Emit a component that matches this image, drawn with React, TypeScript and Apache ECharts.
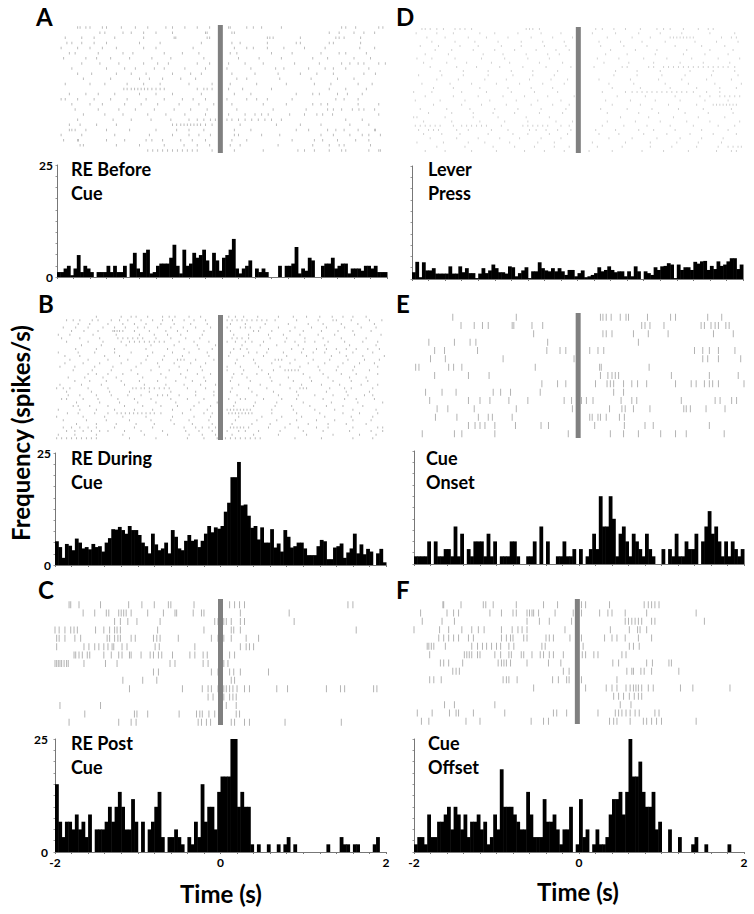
import React, { useEffect, useRef } from "react";
import * as echarts from "echarts";

// Histogram values, spikes/s, 100 bins of 0.04 s from -2 s to 2 s
const histA = [1.1,1.1,1.9,2.5,0.4,1.9,4.9,1.1,2.5,1.9,1.1,0,1.1,1.1,1.1,2.5,1.1,2.5,1.1,1.1,2.5,0,3,5.4,1.9,1.1,5.4,6.1,0.8,1.1,2.5,3,3,3,4.3,7.2,2.5,0.8,6.1,2.5,3,5.4,4.3,4.9,6.1,3.7,1.4,5.4,3.7,1.4,4.3,4.9,6.1,8.5,1.9,0.8,1.9,2.5,3.7,0,1.9,1.1,1.9,1.1,0,0,0,2.5,0,2.5,2.5,3,6.7,0.8,1.9,1.4,4.3,3.7,0,0,2.5,3,3,4.3,1.9,2.5,3,3,0.8,1.9,1.9,1.9,1.4,2.5,2.5,1.9,2.5,1.1,1.1,1.1];
const histB = [5.3,4,1.6,4.7,4.3,3.3,5.9,5,3.7,4,3.5,4.7,4,4.2,3,5,6,8,7.9,8.5,7.8,7,8.7,7.8,7.8,6.7,5,4.2,2.6,7,4.6,3.3,3.7,5,2.6,7.8,6.3,3.7,3.3,5.4,6.7,5.4,5.7,4,5.4,7,8.7,7.3,8.4,8.1,8.7,11.9,13.9,19.6,19.6,23,13.3,13.5,11,8.3,8.7,5.7,8.4,5,5,8,3.9,4.8,3,7.8,6.3,3.9,4.2,5,5,3.7,2.2,2.2,2.2,4.2,5.6,5.3,1.3,1.3,3.9,4.2,4.8,1.6,2.8,3.7,7,2.6,4.6,2.4,3.6,3,0,2.6,3.6,0.6];
const histC = [15,6.7,3.3,6.7,6.7,5,8.3,5,6.7,3.3,8.3,0,5,5,5,6.7,10,6.7,10,13.3,10,5,5,11.7,6.7,0,6.7,0,5,6.7,10,13.3,3.3,0,3.3,3.3,5,3.3,1.7,0,3.3,1.7,6.7,3.3,15,6.7,10,10,5,13.3,16.7,16.7,16.7,25,25,10,13.3,10,10,1.7,0,1.7,0,0,1.7,0,0,1.7,0,1.7,3.3,0,1.7,0,0,0,0,0,0,0,0,0,1.7,0,0,0,3.3,1.7,1.7,0,1.7,1.7,0,0,0,0,1.7,3.3,0,0];
const histD = [1.5,3.8,.4,3.7,1.9,1.9,2.4,1.2,1.2,1.2,1.2,2.8,1.2,1.2,2.8,1.5,2.4,1.3,1.3,.2,1.2,2.4,1.3,1.9,3.2,2.4,1.5,1.5,1.2,2.8,2.6,.6,1.3,1.9,2.6,.2,1.7,1.7,3.7,2.4,1.9,1.7,2.4,1.7,2.4,1.7,.9,2,2,.6,1.3,1.9,.4,.6,.9,1.3,2.6,1.7,2,2.8,2,1.5,1.7,1.7,.6,1.7,.6,2.8,1.7,0,1.7,1.3,.9,2.6,2,2.8,2.9,3.5,3.2,.2,3.2,2,2.6,2.6,2,3.8,3.4,3.9,4,2,2.9,2.2,3.9,2.9,3.2,3.9,4.6,4.6,2.2,3.2];
const histE = [1.7,1.7,1.7,1.7,5,0,5,1.7,1.7,3.3,3.3,1.7,8.3,1.7,6.7,0,3.3,1.7,5,5,5,1.7,6.7,1.7,5,0,1.7,1.7,1.7,5,5,1.7,0,0,1.7,1.7,5,0,8.3,0,5,0,0,1.7,1.7,5,1.7,1.7,3.3,0,3.3,0,1.7,3.3,6.7,3.3,15,8.3,8.3,15,10,1.7,6.7,8.3,5,1.7,6.7,5,3.3,1.7,6.7,3.3,1.7,0,0,3.3,0,3.3,1.7,6.7,1.7,1.7,5,3.3,3.3,6.7,0,5,8.3,11.7,6.7,8.3,5,1.7,5,1.7,5,3.3,1.7,3.3];
const histF = [1.7,3.3,3.3,1.7,8.3,3.3,3.3,6.7,6.7,8.3,10,5,10,8.3,5,8.3,3.3,6.7,6.7,8.3,5,6.7,1.7,3.3,8.3,5,18.3,10,10,10,8.3,6.7,5,5,13.3,8.3,3.3,3.3,3.3,11.7,6.7,6.7,8.3,5,1.7,5,5,10,0,1.7,11.7,3.3,5,0,1.7,5,1.7,1.7,3.3,8.3,11.7,11.7,13.3,8.3,13.3,25,16.7,16.7,20,13.3,10,10,13.3,5,6.7,0,0,5,0,0,3.3,0,0,0,1.7,3.3,0,0,1.7,0,0,0,0,0,0,1.7,0,0,0,0];

// Raster spike times, in hundredths of a second, one list per trial
const rasterA = [
[-175,-172,-165,-160,-145,-140,-122,-105,-90,-68,-60,-45,-30,-15,8,10,30,38,48,72,145,150,162,190,195],
[-148,-142,-120,-110,-95,-80,-60,-20,-18,12,15,130,142,160,172,185],
[-190,-170,-155,-130,-95,-58,-56,-15,-18,55,58,62,95,138,142,148,168],
[-188,-182,-170,-155,-140,-100,-75,-25,12,22,55,90,95,130,135,168],
[-195,-175,-160,-145,-128,-95,-80,-35,15,30,38,55,75,100,125,167,185],
[-185,-178,-150,-120,-108,-70,-48,-28,10,18,60,85,120,142,150,175],
[-192,-165,-152,-135,-112,-85,-62,-22,20,45,72,110,128,160,180],
[-170,-148,-125,-95,-78,-65,-30,-15,8,28,50,88,118,145,155,165,172,190,198],
[-182,-140,-118,-105,-82,-70,-45,-20,6,35,65,75,105,125,135,150,178],
[-175,-158,-128,-110,-92,-60,-38,-25,12,40,68,95,115,135,172,186],
[-168,-135,-100,-88,-72,-50,-32,18,30,70,108,140,160],
[-190,-160,-142,-115,-95,-75,-40,-12,10,42,78,112,132,165,182],
[-119,-115,-110,-106,-102,-98,-94,-90,-85,-80,-75,-70,-30,-22,-18,-12,8,25,60,130,150,175],
[-185,-165,-150,-130,-100,-80,-60,-25,15,35,90,110,118,140,152,170],
[-195,-190,-175,-155,-135,-115,-92,-70,-48,-35,-20,6,30,42,55,85,138,148,165],
[-182,-160,-145,-118,-98,-78,-52,-28,-10,12,50,78,110,120,128,165,190],
[-178,-150,-125,-105,-82,-58,-38,-18,18,62,102,128,135,145,158,172,166,185],
[-168,-142,-120,-90,-68,-45,-20,8,28,40,48,56,82,100,115,122,134,190],
[-175,-132,-110,-86,-62,-40,-30,-22,-14,-8,6,12,20,28,36,44,52,60,72,150,170],
[-185,-172,-152,-128,-60,-55,-50,-46,-42,-38,-34,-30,-26,-20,-12,22,66,95,120,155,178],
[-185,-182,-178,-165,-140,-112,-80,-55,-40,-22,15,35,90,105,128,138,148,165,185,186],
[-195,-170,-130,-88,-60,-40,-28,-14,15,20,48,70,120,135,155,170,178,192],
[-192,-175,-174,-140,-118,-92,-85,-72,-50,-36,-20,12,30,85,112,122,140,162,178],
[-172,-168,-128,-100,-70,-46,-30,-15,10,22,68,110,130,142,148,180],
[-90,-84,-78,-72,-66,-60,-54,-48,-42,-36,-30,-12,15,50,92,100,112,130,145,150,178,190,192]
];
const rasterB = [
[-150,-120,-108,-102,-88,-70,-62,-55,-38,-24,10,18,28,45,70,88,104,120,135,148,160,176],
[-186,-178,-170,-155,-148,-132,-122,-112,-96,-82,-70,-58,-44,-32,-18,8,14,20,26,32,38,44,50,56,66,92,118,136,140,158,180,195],
[-172,-158,-136,-118,-104,-90,-72,-56,-36,-16,12,30,54,82,106,124,146,166,186],
[-190,-175,-160,-142,-128,-115,-100,-92,-76,-60,-45,-30,-12,8,24,30,36,48,70,90,110,128,150,170,188],
[-180,-165,-148,-130,-128,-125,-122,-118,-104,-86,-66,-52,-40,-20,12,40,46,62,84,100,122,142,160,182],
[-196,-182,-154,-126,-98,-80,-64,-48,-22,16,34,58,76,96,118,138,162,194],
[-192,-170,-146,-124,-118,-112,-106,-100,-94,-78,-60,-42,-25,14,20,26,34,60,80,102,124,146,176],
[-186,-160,-142,-120,-110,-104,-98,-92,-86,-80,-74,-68,-50,-32,-14,8,18,30,38,52,78,90,102,114,130,150,172,190],
[-168,-144,-114,-84,-56,-28,-6,26,48,68,94,126,156,188],
[-175,-150,-128,-90,-64,-44,-26,-10,16,24,32,58,86,100,116,128,140,152,164,178,192],
[-196,-172,-152,-128,-108,-82,-58,-38,-16,12,34,44,56,76,98,112,126,144,160,184],
[-188,-170,-140,-122,-88,-68,-46,-14,10,28,52,80,104,134,152,172,198],
[-182,-160,-136,-112,-90,-70,-52,-48,-44,-30,-8,20,40,66,70,74,90,112,132,154,174,192],
[-188,-166,-146,-120,-96,-76,-56,-36,-18,18,42,62,84,106,126,148,168,186],
[-194,-176,-152,-130,-102,-74,-50,-24,8,24,46,72,96,118,142,162,190],
[-178,-155,-132,-108,-84,-62,-40,-22,8,28,50,64,78,82,86,90,94,120,140,160,180],
[-160,-150,-136,-118,-100,-72,-48,-28,-12,16,26,44,58,100,124,146,164,190],
[-184,-164,-142,-126,-94,-66,-42,-20,14,32,60,82,108,130,156,176],
[-176,-158,-138,-120,-98,-76,-54,-34,-18,12,36,62,88,110,136,158,178],
[-194,-168,-144,-116,-92,-66,-44,-24,-6,22,48,72,98,122,144,170,190],
[-198,-190,-182,-160,-136,-106,-102,-96,-92,-86,-80,-74,-68,-62,-40,-18,14,34,56,84,96,100,104,132,150,158,184],
[-186,-156,-134,-110,-86,-60,-30,-8,12,38,64,92,128,152,180],
[-184,-170,-150,-132,-112,-96,-76,-70,-64,-50,-30,-8,20,44,70,94,114,136,154,174,184],
[-192,-186,-166,-148,-124,-104,-84,-60,-40,-20,10,24,30,52,74,92,124,150,164,186],
[-174,-146,-122,-100,-78,-54,-26,-4,18,42,68,100,134,166,196],
[-178,-172,-158,-136,-116,-94,-72,-52,-32,-12,16,40,66,86,108,128,148,172],
[-196,-170,-150,-128,-104,-82,-58,-36,-16,8,12,16,20,24,28,32,36,62,88,114,138,160,188],
[-185,-172,-152,-136,-125,-120,-115,-110,-105,-100,-95,-90,-85,-80,-72,-46,-20,-10,10,14,18,22,26,30,34,38,62,92,120,148,168,190],
[-198,-166,-140,-118,-90,-58,-32,-12,22,50,74,98,126,158,184],
[-190,-162,-138,-110,-84,-60,-38,-14,18,44,68,92,116,138,160,182],
[-174,-150,-126,-102,-80,-56,-34,-10,14,38,60,84,106,130,152,176],
[-190,-180,-170,-160,-150,-128,-104,-82,-44,-30,-22,-14,-6,12,16,20,24,28,34,58,78,94,116,130,160,190,196],
[-186,-176,-166,-156,-146,-136,-116,-96,-70,-42,-26,-10,8,22,30,46,72,100,124,156,182,196],
[-196,-176,-150,-118,-92,-64,-38,-22,-6,14,40,70,104,136,168,188],
[-198,-192,-186,-180,-174,-168,-162,-156,-150,-110,-78,-40,-20,-4,6,12,18,24,30,36,42,48,90,122,160,184]
];
const rasterC = [
[-183,-181,-171,-145,-111,-95,-80,-63,-60,-32,11,17,23,29,154,160],
[-166,-152,-138,-135,-123,-120,-117,-114,-108,-88,-69,-55,-53,-33,-23,-20,24,83],
[-128,-121,-112,-101,-73,-7,-3,4,7,13,24,29,89],
[-200,-195,-188,-181,-177,-173,-151,-141,-134,-128,-125,-121,-76,-20,13,16,24,164],
[-198,-195,-188,-176,-169,-137,-134,-128,-124,-121,-108,-103,-81,-77,-73,-51,-11,-3,4,13,31,46],
[-198,-165,-159,-152,-147,-141,-136,-131,-129,-119,-113,-79,-74,-31,24,31,35,40],
[-177,-175,-171,-167,-161,-158,-141,-132,-123,-119,-110,-108,-96,-85,-81,-75,-71,-58,-37,-31,-21,-16,11,17],
[-200,-198,-196,-194,-192,-189,-186,-184,-165,-139,-125,-61,-55,-21,-15,4,9],
[-81,-75,-11,-3,1,11,16,24,58],
[-118,-94,-77,13,17],
[-110,-46,-22,-15,-11,-3,4,7,11,15,20,29,35,68,81,128,145,150,185,189],
[-15,-9,4,11,15,19],
[-194,-145,7,19],
[-164,-104,-101,-88,-50,-29,-25,-22,-14,-7,19,23],
[-183,-123,-108,-102,-27,-23,-17,-12,13,17,29,35,78,146]
];
const rasterD = [
[-188,-184,-178,-170,-162,-148,-142,-136,-128,-62,-58,-54,-46,22,30,44,58,76,96,104,112,128,146,158,164],
[-195,-170,-150,-118,-100,-72,-44,-20,18,46,74,100,126,160,190],
[-182,-160,-132,-110,-84,-56,-30,-6,36,66,88,112,116,120,124,128,132,136,140,174,186,192],
[-176,-148,-124,-96,-68,-42,-16,26,52,78,106,142,168,194],
[-190,-168,-142,-120,-92,-68,-40,-14,28,56,84,118,150,178],
[-172,-152,-126,-100,-76,-50,-26,-10,40,70,96,132,160,188],
[-184,-156,-114,-90,-62,-36,-22,34,60,94,128,154,182],
[-194,-176,-148,-116,-88,-60,-34,24,50,80,108,138,170,196],
[-186,-158,-134,-104,-82,-46,-18,32,62,92,124,152,184],
[-178,-146,-122,-94,-66,-38,-8,20,54,60,86,92,104,110,116,122,128,134,140,146,152,158,164,170,176,182,190],
[-166,-138,-108,-80,-54,-24,46,72,100,136,164,190],
[-192,-164,-138,-108,-78,-54,-28,44,72,102,130,162,194],
[-170,-144,-112,-86,-58,-32,-12,26,64,98,126,156,186],
[-188,-154,-128,-98,-70,-42,-16,38,68,106,134,166,198],
[-174,-150,-118,-84,-56,-30,42,76,112,144,172,192],
[-198,-176,-140,-110,-80,-52,-24,30,58,66,72,78,84,90,96,102,108,114,120,126,132,140,156,172],
[-184,-150,-120,-90,-64,-36,-4,48,82,118,148,160,172,178,184,190,196],
[-196,-166,-136,-106,-74,-48,-20,34,64,94,124,154,182],
[-174,-140,-116,-86,-56,-30,-10,42,76,110,144,164,168,172,176,180,184,188,192],
[-190,-158,-130,-100,-72,-44,-14,28,60,90,122,152,186],
[-180,-152,-126,-102,-76,-46,-18,36,74,98,130,158,188],
[-198,-194,-160,-126,-96,-62,-34,52,86,116,146,178],
[-186,-152,-118,-88,-60,-26,-6,36,70,100,132,160,196],
[-196,-190,-184,-178,-172,-166,-150,-140,-134,-128,-122,-116,-110,-92,-66,-60,-54,-48,-42,-36,-20,-10,30,56,84,112,140,170,190],
[-192,-180,-174,-168,-146,-132,-104,-84,-58,-50,-38,-24,-8,22,46,74,92,118,150,182],
[-186,-164,-142,-108,-78,-60,-34,-12,26,50,80,108,136,164,192],
[-178,-146,-120,-94,-70,-44,-20,38,66,96,124,150,176],
[-194,-162,-132,-112,-82,-48,-28,18,58,88,120,146,174],
[-170,-136,-102,-76,-52,-28,-10,24,54,88,114,144,170,182,188,194,198],
[-184,-160,-128,-98,-64,-40,-16,14,42,78,104,134,168,186,192]
];
const rasterE = [
[-153,-76,26,29,33,39,50,57,60,83,111,117,156,173],
[-143,-127,-117,-110,-81,-79,-57,-44,76,80,86,103,148,152,160,165,169,178,182],
[-55,29,33,40,66,84,108,163,187],
[-182,-151,-132,-125,-38,72],
[-175,-163,-123,-39,-23,-16,13,23,30,140,150,158,169,189],
[-180,-162,-92,-6,150,156,169,196],
[-198,-194,-158,-152,-142,-53,25,27,85],
[-175,-134,-109,26,35,40,44,48,112,158,193],
[-45,-26,-16,20,34,38,42,54,64,71,82,117,136,142,152,158,162,169,200],
[-186,-166,-149,-104,-95,-83,-47,42,54],
[-181,-134,-120,-108,-85,-62,-18,-9,3,9,17,51,64,70,124,165,171,185,191],
[-172,-159,-127,-76,-8,37,52,56,66,86,127,130,135,154,177],
[-174,-148,-122,-110,-105,-81,13,16,23,26,33,49,55],
[-134,-126,-120,-114,-102,-77,-46,-37,19,55,80,90,158],
[-190,-151,-142,-102,-13,38,54,72,99,117,130,176]
];
const rasterF = [
[-165,-164,-143,-116,-113,-104,-76,-43,-26,-3,3,8,37,79,84,88,92,97],
[-192,-160,-152,-146,-108,-94,-80,-76,-63,-60,-57,-55,-49,-29,-7,3,25,35,40,56,82,142],
[-190,-166,-151,-63,-48,-36,-9,56,60,64,68,72,76,88,92,152],
[-200,-169,-158,-142,-130,-122,-115,-94,-81,-74,-69,-63,-17,38,61,71,74,82],
[-170,-164,-158,-152,-146,-134,-128,-94,-88,-83,-80,-67,-63,-40,-36,-31,-11,3,31,40,46,56,72,88],
[-184,-182,-179,-176,-162,-130,-123,-117,-112,-106,-100,-95,-85,-79,-45,-41,5,61,66,73],
[-181,-139,-136,-133,-130,-123,-120,-102,-95,-85,-82,-70,-67,-57,-47,-43,-36,-31,-19,-3,4,8,18,23,52,57],
[-168,-164,-158,-141,-98,-94,-91,-88,-83,-63,-37,-22,41,48,82,89,109,112],
[-153,-149,-145,-19,-12,58,64,66,75,79,88,121],
[-181,-176,-167,-92,-88,-85,-75,-32,-25,-15,-12,-4,-1,3,46],
[-55,8,33,40,46,57,62,66,69,72,76,84,90,123,138,183],
[42,48,54,61,67,72,76],
[-163,-151,-102,50,63],
[-196,-178,-157,-149,-146,-128,-90,-31,-27,-15,23,44,48,52,57,62,68,73,92,97],
[-191,-182,-137,-120,-58,-43,-37,37,42,46,62,78,82,88,94,100,142]
];

// Cue marker position per panel, seconds
const cueTimes = { A: -0.02, B: 0, C: 0, D: 0.01, E: -0.01, F: -0.02 };
const xTickLabels = ["-2", "0", "2"];
const yTickLabels = ["0", "25"];
const binWidth = 0.04;

const FONT = "Lato, 'Open Sans', sans-serif";

const PANELS = [
  { key: "A", hist: histA, raster: rasterA, x0: 57, x1: 387, rTop: 25, rBot: 153, hTop: 165, hBot: 277, lx: 71, ly: 169, labels: ["RE Before", "Cue"], lLeft: 36, lTop: 16, yLab: true, xLab: false, tick: 2.5, col: "#ababab", off: 0.5, yMargin: 4 },
  { key: "B", hist: histB, raster: rasterB, x0: 55, x1: 386, rTop: 315, rBot: 440, hTop: 453, hBot: 565, lx: 71, ly: 458, labels: ["RE During", "Cue"], lLeft: 38, lTop: 303, yLab: true, xLab: false, tick: 2, col: "#a8a8a8", off: 0.5, yMargin: 4 },
  { key: "C", hist: histC, raster: rasterC, x0: 55, x1: 386, rTop: 599, rBot: 725, hTop: 739, hBot: 852, lx: 71, ly: 743, labels: ["RE Post", "Cue"], lLeft: 38, lTop: 589, yLab: true, xLab: true, tick: 7, col: "#a0a0a0", off: 0.68, yMargin: 7 },
  { key: "D", hist: histD, raster: rasterD, x0: 412, x1: 743, rTop: 27, rBot: 153, hTop: 166, hBot: 279, lx: 428, ly: 169, labels: ["Lever", "Press"], lLeft: 396, lTop: 16, yLab: false, xLab: false, tick: 2, col: "#c6c6c6", off: 0.5, yMargin: 4 },
  { key: "E", hist: histE, raster: rasterE, x0: 414, x1: 744, rTop: 313, rBot: 438, hTop: 451, hBot: 564, lx: 426, ly: 458, labels: ["Cue", "Onset"], lLeft: 396, lTop: 303, yLab: false, xLab: false, tick: 7, col: "#a0a0a0", off: 0.5, yMargin: 4 },
  { key: "F", hist: histF, raster: rasterF, x0: 414, x1: 744, rTop: 599, rBot: 724, hTop: 739, hBot: 852, lx: 428, ly: 743, labels: ["Cue", "Offset"], lLeft: 396, lTop: 589, yLab: false, xLab: true, tick: 7, col: "#a0a0a0", off: 0.68, yMargin: 4 },
];

const renderBin = (_: any, api: any) => {
  const start = api.value(0);
  const top = api.coord([start, api.value(1)]);
  const end = api.coord([start + binWidth, 0]);
  return {
    type: "rect",
    shape: { x: top[0], y: top[1], width: end[0] - top[0] + 0.5, height: end[1] - top[1] },
    style: { fill: "#000" },
  };
};

function buildOption() {
  const grid: any[] = [], xAxis: any[] = [], yAxis: any[] = [], series: any[] = [], graphic: any[] = [];
  PANELS.forEach((p) => {
    const n = p.raster.length;
    // raster grid
    const r = grid.length;
    grid.push({ left: p.x0, width: p.x1 - p.x0, top: p.rTop, height: p.rBot - p.rTop, containLabel: false });
    xAxis.push({ gridIndex: r, type: "value", min: -2, max: 2, show: false });
    yAxis.push({ gridIndex: r, type: "value", min: 0, max: n, inverse: true, show: false });
    const pts: number[][] = [];
    p.raster.forEach((row: number[], i: number) => row.forEach((c) => pts.push([c / 100, i + p.off])));
    series.push({
      type: "scatter", xAxisIndex: r, yAxisIndex: r, data: pts, symbol: "rect",
      symbolSize: [1, p.tick], itemStyle: { color: p.col }, silent: true, clip: false,
    });
    const cue = (cueTimes as any)[p.key];
    series.push({
      type: "line", xAxisIndex: r, yAxisIndex: r, data: [[cue, 0], [cue, n]], showSymbol: false, silent: true,
      lineStyle: { color: "#808080", width: 5, cap: "butt" }, z: 5,
    });
    // histogram grid
    const h = grid.length;
    grid.push({ left: p.x0, width: p.x1 - p.x0, top: p.hTop, height: p.hBot - p.hTop, containLabel: false });
    xAxis.push({
      gridIndex: h, type: "value", min: -2, max: 2, interval: 0.2, splitLine: { show: false },
      axisLine: { lineStyle: { color: "#777", width: 1 } },
      axisTick: { length: 2, lineStyle: { color: "#777", width: 1 } },
      axisLabel: {
        show: p.xLab, margin: 4, color: "#000", fontFamily: FONT, fontWeight: "bold", fontSize: 12, showMinLabel: true, showMaxLabel: true,
        formatter: (v: number) => (Math.abs(v + 2) < 1e-6 ? xTickLabels[0] : Math.abs(v) < 1e-6 ? xTickLabels[1] : Math.abs(v - 2) < 1e-6 ? xTickLabels[2] : ""),
      },
    });
    yAxis.push({
      gridIndex: h, type: "value", min: 0, max: 25, interval: 2.5, splitLine: { show: false },
      axisLine: { show: true, onZero: false, lineStyle: { color: "#777", width: 1 } },
      axisTick: { show: true, length: 1.5, lineStyle: { color: "#999", width: 1 } },
      axisLabel: {
        show: p.yLab, margin: p.yMargin, color: "#000", fontFamily: FONT, fontWeight: "bold", fontSize: 12,
        formatter: (v: number) => (v === 0 ? yTickLabels[0] : v === 25 ? yTickLabels[1] : ""),
      },
    });
    series.push({
      type: "custom", xAxisIndex: h, yAxisIndex: h, silent: true, clip: false,
      renderItem: renderBin, encode: { x: 0, y: 1 },
      data: p.hist.map((v: number, i: number) => [-2 + i * binWidth, v]),
    });
    graphic.push({ type: "text", x: p.lLeft, y: p.lTop, style: { text: p.key, fill: "#000", font: `bold 24px ${FONT}`, verticalAlign: "middle" } });
    p.labels.forEach((t: string, i: number) => {
      graphic.push({ type: "text", x: p.lx, y: p.ly + i * 24, style: { text: t, fill: "#000", font: `bold 18px ${FONT}`, verticalAlign: "middle" } });
    });
  });
  graphic.push({
    type: "text", x: 20, y: 433, rotation: Math.PI / 2,
    style: { text: "Frequency (spikes/s)", fill: "#000", font: `bold 24px ${FONT}`, align: "center", verticalAlign: "middle" },
  });
  graphic.push({ type: "text", x: 221, y: 893, style: { text: "Time (s)", fill: "#000", font: `bold 24px ${FONT}`, align: "center", verticalAlign: "middle" } });
  graphic.push({ type: "text", x: 578, y: 891, style: { text: "Time (s)", fill: "#000", font: `bold 24px ${FONT}`, align: "center", verticalAlign: "middle" } });
  return { animation: false, backgroundColor: "#fff", grid, xAxis, yAxis, series, graphic };
}

export default function App() {
  const ref = useRef<HTMLDivElement>(null);
  useEffect(() => {
    document.body.style.margin = "0";
    const chart = echarts.init(ref.current!, undefined, { renderer: "svg" });
    chart.setOption(buildOption() as any);
    return () => chart.dispose();
  }, []);
  return <div ref={ref} style={{ width: 754, height: 914 }} />;
}
